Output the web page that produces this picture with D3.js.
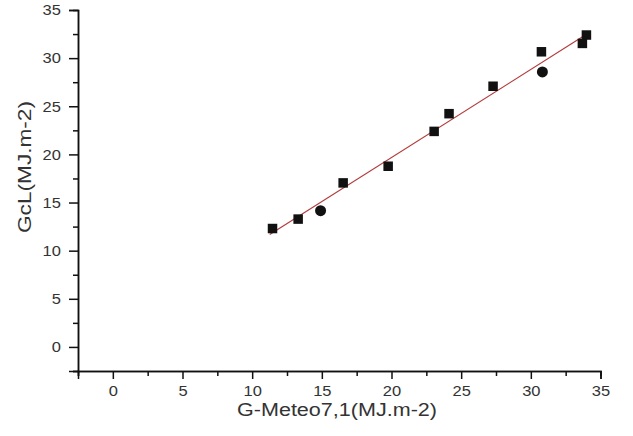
<!DOCTYPE html>
<html><head><meta charset="utf-8">
<script src="https://cdn.jsdelivr.net/npm/d3@7"></script>
<style>body{margin:0;background:#fff}svg{display:block}</style>
</head><body>
<script>
const xValues = [11.46, 13.30, 14.91, 16.53, 19.76, 23.06, 24.13, 27.29, 30.76, 30.83, 33.70, 33.99];
const yValues = [12.30, 13.28, 14.15, 17.04, 18.77, 22.39, 24.23, 27.08, 30.66, 28.57, 31.53, 32.40];
const shapes  = ["square","square","circle","square","square","square","square","square","square","circle","square","square"];
const xTicks = [0, 5, 10, 15, 20, 25, 30, 35];
const yTicks = [0, 5, 10, 15, 20, 25, 30, 35];
const minorTicks = [-2.5, 2.5, 7.5, 12.5, 17.5, 22.5, 27.5, 32.5];
const xTitle = "G-Meteo7,1(MJ.m-2)";
const yTitle = "GcL(MJ.m-2)";

const W = 633, H = 436;
const svg = d3.select("body").append("svg").attr("width", W).attr("height", H);
const x = d3.scaleLinear().domain([-2.5, 35]).range([78, 600.5]);
const y = d3.scaleLinear().domain([-2.5, 35]).range([371, 10]);
const font = "'Liberation Sans', Arial, sans-serif";

// axes
const gx = svg.append("g").attr("transform", `translate(0,${y(-2.5)})`);
gx.call(d3.axisBottom(x).tickValues(xTicks).tickSize(8).tickPadding(6).tickFormat(d3.format("d")));
gx.append("g").call(d3.axisBottom(x).tickValues(minorTicks).tickSize(5).tickFormat(""));
const gy = svg.append("g").attr("transform", `translate(${x(-2.5)},0)`);
gy.call(d3.axisLeft(y).tickValues(yTicks).tickSize(9).tickPadding(6).tickFormat(d3.format("d")));
gy.append("g").call(d3.axisLeft(y).tickValues(minorTicks).tickSize(5).tickFormat(""));
svg.selectAll(".domain").attr("stroke", "#111").attr("stroke-width", 1.5);
svg.selectAll(".tick line").attr("stroke", "#111").attr("stroke-width", 1.5);
svg.selectAll(".tick text").attr("font-family", font).attr("font-size", 15).attr("fill", "#333");
gx.selectAll(".tick text").attr("transform", "scale(1.12,1)").each(function(d){ d3.select(this).attr("x", 0).attr("transform", `translate(${x(d)*0.0},0) scale(1.12,1)`); });
gx.selectAll(".tick text").attr("transform", null);
// stretch tick labels horizontally a little
svg.selectAll(".tick text").attr("transform", "scale(1.1,1)");
gy.selectAll(".tick text").attr("x", -15/1.1 - 2);

// fit line (least squares)
const n = xValues.length;
const mx = d3.mean(xValues), my = d3.mean(yValues);
const slope = d3.sum(xValues.map((v,i)=>(v-mx)*(yValues[i]-my))) / d3.sum(xValues.map(v=>(v-mx)*(v-mx)));
const icpt = my - slope*mx;
const x0 = d3.min(xValues) - 0.2, x1 = d3.max(xValues) + 0.2;
svg.append("line")
  .attr("x1", x(x0)).attr("y1", y(icpt + slope*x0))
  .attr("x2", x(x1)).attr("y2", y(icpt + slope*x1))
  .attr("stroke", "#b33a3a").attr("stroke-width", 1.2);

// points
const pts = xValues.map((v,i)=>({x:v, y:yValues[i], s:shapes[i]}));
const sq = 9.5;
svg.selectAll("rect.pt").data(pts.filter(d=>d.s==="square")).join("rect")
  .attr("class","pt").attr("x", d=>x(d.x)-sq/2).attr("y", d=>y(d.y)-sq/2)
  .attr("width", sq).attr("height", sq).attr("fill", "#111");
svg.selectAll("circle.pt").data(pts.filter(d=>d.s==="circle")).join("circle")
  .attr("class","pt").attr("cx", d=>x(d.x)).attr("cy", d=>y(d.y)).attr("r", 5.5).attr("fill", "#111");

// titles
svg.append("text").attr("x", 337).attr("y", 416).attr("text-anchor", "middle")
  .attr("font-family", font).attr("font-size", 18).attr("fill", "#333")
  .attr("textLength", 200).attr("lengthAdjust", "spacingAndGlyphs").text(xTitle);
svg.append("text").attr("transform", "translate(31,167) rotate(-90)").attr("text-anchor", "middle")
  .attr("font-family", font).attr("font-size", 18).attr("fill", "#333")
  .attr("textLength", 132).attr("lengthAdjust", "spacingAndGlyphs").text(yTitle);
</script>
</body></html>
